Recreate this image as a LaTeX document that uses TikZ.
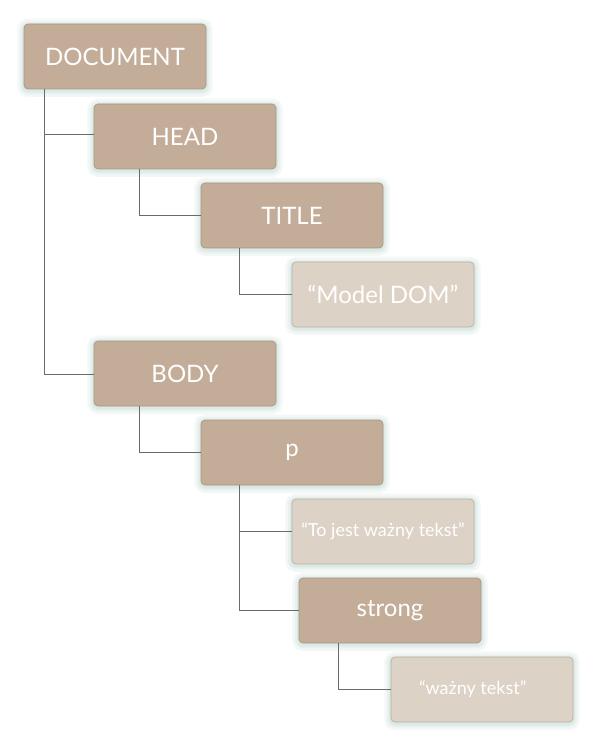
\documentclass[tikz,border=0pt]{standalone}
\usepackage{fontspec}
\setmainfont{Lato}
\definecolor{darkbox}{HTML}{C4AD98}
\definecolor{darkedge}{HTML}{A89582}
\definecolor{lightbox}{HTML}{DDD2C6}
\definecolor{lightedge}{HTML}{B9AEA3}
\definecolor{glow}{HTML}{C2DAD3}
\definecolor{linec}{HTML}{6A6A6A}
\tikzset{
  boxbase/.style={rectangle, rounded corners=3pt, minimum width=136.5pt, minimum height=48.75pt,
    inner sep=0pt, text=white, line width=0.5pt,
    preaction={draw=glow, draw opacity=0.18, line width=10pt, transform canvas={yshift=-1pt}},
    preaction={draw=glow, draw opacity=0.22, line width=6pt, transform canvas={yshift=-1pt}},
    preaction={draw=glow, draw opacity=0.3, line width=3pt, transform canvas={yshift=-1pt}}},
  darknode/.style={boxbase, fill=darkbox, draw=darkedge, font=\fontsize{18}{20}\selectfont},
  lightnode/.style={boxbase, fill=lightbox, draw=lightedge},
  conn/.style={draw=linec, line width=0.5pt}
}
\begin{document}
\begin{tikzpicture}[x=0.75pt,y=-0.75pt]
\useasboundingbox (0,0) rectangle (600,748);
\fill[white] (0,0) rectangle (600,748);
\node[darknode] (doc) at (115,56.5) {DOCUMENT};
\node[darknode] (head) at (185,136.5) {HEAD};
\node[darknode] (title) at (292,215.5) {TITLE};
\node[lightnode, font=\fontsize{18}{20}\selectfont] (model) at (383,294.5) {“Model DOM”};
\node[darknode] (body) at (185,373.5) {BODY};
\node[darknode] (p) at (292,452.5) {p};
\node[lightnode, font=\fontsize{13.5}{15}\selectfont] (tojest) at (383,531.5) {“To jest ważny tekst”};
\node[darknode] (strong) at (390,610.5) {strong};
\node[lightnode, font=\fontsize{13.5}{15}\selectfont] (wazny) at (482,689.5) {\hspace*{-14pt}“ważny tekst”};
% connectors
\coordinate (d1) at (44,89);
\draw[conn] (d1) |- (head.west |- 0,134);
\draw[conn] (d1) |- (body.west |- 0,374);
\draw[conn] (139,169) |- (title.west);
\draw[conn] (239,248) |- (model.west);
\draw[conn] (139,406) |- (p.west);
\draw[conn] (239,485) |- (tojest.west);
\draw[conn] (239,485) |- (strong.west);
\draw[conn] (338,643) |- (wazny.west);
\end{tikzpicture}
\end{document}
